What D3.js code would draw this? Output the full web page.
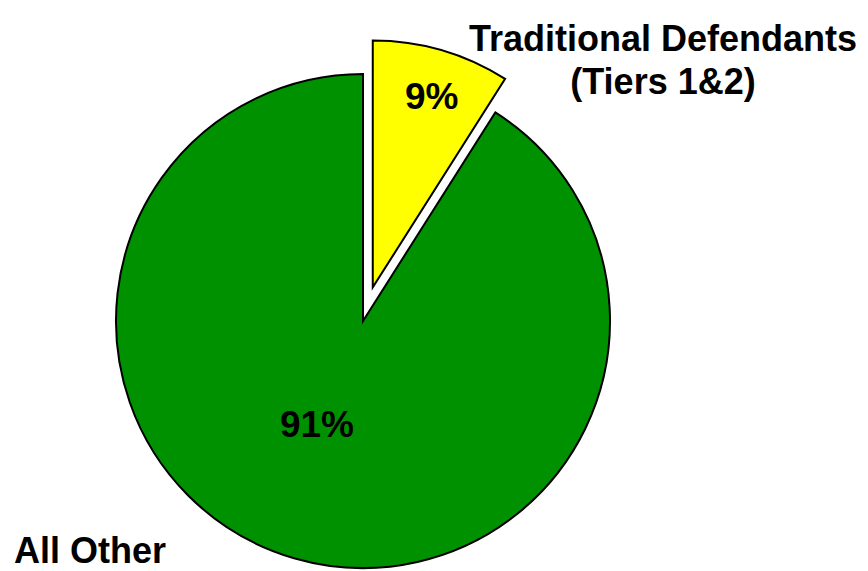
<!DOCTYPE html>
<html>
<head>
<meta charset="utf-8">
<script src="https://cdn.jsdelivr.net/npm/d3@7/dist/d3.min.js"></script>
<style>
  html, body { margin: 0; padding: 0; background: #fff; }
  svg { display: block; }
  text { font-family: "Liberation Sans", Arial, sans-serif; font-weight: bold; fill: #000; }
</style>
</head>
<body>
<svg id="chart" width="868" height="571"></svg>
<script>
// Share of defendants by group
const categories = ["Traditional Defendants (Tiers 1&2)", "All Other"];
const values = [9, 91];
const labelLines = [["Traditional Defendants", "(Tiers 1&2)"], ["All Other"]];
const colors = ["#ffff00", "#009100"];

const width = 868, height = 571;
const cx = 363, cy = 321, radius = 247;
const explode = [35, 0];

const svg = d3.select("#chart");
const g = svg.append("g").attr("transform", `translate(${cx},${cy})`);

const pie = d3.pie().sort(null).value(d => d.value).startAngle(0).endAngle(2 * Math.PI);
const arcs = pie(categories.map((c, i) => ({ name: c, value: values[i], idx: i })));

const arc = d3.arc().innerRadius(0).outerRadius(radius);
const total = d3.sum(values);

const slice = g.selectAll("g.slice").data(arcs).join("g")
  .attr("class", "slice")
  .attr("transform", d => {
    const mid = (d.startAngle + d.endAngle) / 2;
    const off = explode[d.data.idx];
    return `translate(${Math.sin(mid) * off},${-Math.cos(mid) * off})`;
  });

slice.append("path")
  .attr("d", arc)
  .attr("fill", d => colors[d.data.idx])
  .attr("stroke", "#000")
  .attr("stroke-width", 2)
  .attr("stroke-linejoin", "miter");

// Percentage labels inside slices (offsets from each slice's apex)
const pctPos = [[59, -178], [-46, 116]];
slice.append("text")
  .attr("x", d => pctPos[d.data.idx][0])
  .attr("y", d => pctPos[d.data.idx][1])
  .attr("text-anchor", "middle")
  .attr("font-size", 37)
  .text(d => Math.round(d.data.value / total * 100) + "%");

// Category labels
const labelSpec = [
  { x: 663, y: 51, anchor: "middle", lh: 43 },
  { x: 14, y: 563, anchor: "start", lh: 43 }
];
labelLines.forEach((lines, i) => {
  const s = labelSpec[i];
  const t = svg.append("text")
    .attr("x", s.x).attr("y", s.y)
    .attr("text-anchor", s.anchor)
    .attr("font-size", 36);
  lines.forEach((ln, j) => {
    t.append("tspan").attr("x", s.x).attr("dy", j === 0 ? 0 : s.lh).text(ln);
  });
});
</script>
</body>
</html>
